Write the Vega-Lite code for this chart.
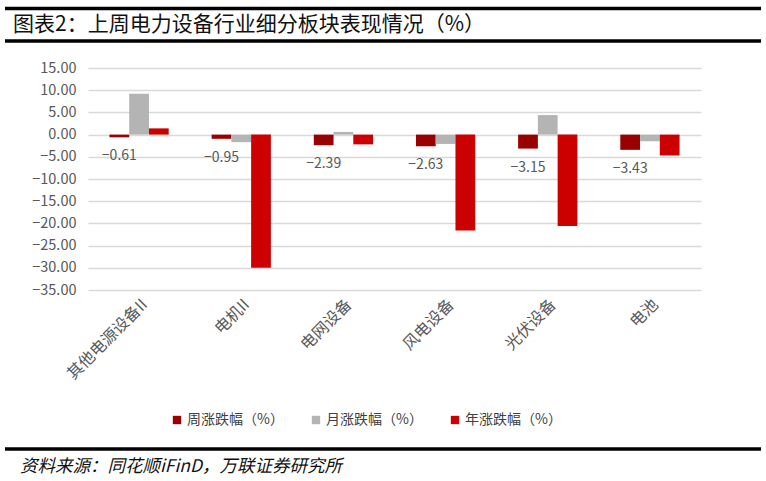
{
  "$schema": "https://vega.github.io/schema/vega-lite/v6.json",
  "padding": {"left": 3, "top": 0, "right": 5, "bottom": 0},
  "spacing": 0,
  "resolve": {"legend": {"color": "independent"}},
  "config": {
    "view": {"stroke": null},
    "font": "Noto Sans CJK SC",
    "axis": {"grid": false},
    "axisY": {"labelOverlap": false, "labelSeparation": 0}
  },
  "vconcat": [
    {
      "width": 613,
      "height": 60,
      "data": {"values": [{"title": "图表2：上周电力设备行业细分板块表现情况（%）"}]},
      "layer": [
        {
          "mark": {"type": "rule", "color": "#000000", "strokeWidth": 3.5},
          "encoding": {
            "x": {"datum": -83, "type": "quantitative", "scale": {"domain": [0, 613], "range": [0, 613], "nice": false, "zero": false}, "axis": null},
            "x2": {"datum": 673},
            "y": {"datum": 8.5, "type": "quantitative", "scale": {"domain": [0, 60], "range": [0, 60], "nice": false}, "axis": null}
          }
        },
        {
          "mark": {"type": "rule", "color": "#000000", "strokeWidth": 3.5},
          "encoding": {
            "x": {"datum": -83, "type": "quantitative"},
            "x2": {"datum": 673},
            "y": {"datum": 41, "type": "quantitative"}
          }
        },
        {
          "mark": {"type": "text", "align": "left", "baseline": "middle", "fontSize": 21, "color": "#111111"},
          "encoding": {
            "x": {"datum": -75, "type": "quantitative"},
            "y": {"datum": 25, "type": "quantitative"},
            "text": {"field": "title"}
          }
        }
      ]
    },
    {
      "width": 613,
      "height": 222,
      "data": {
        "values": [
          {"cat": "其他电源设备II", "series": "周涨跌幅（%）", "value": -0.61},
          {"cat": "其他电源设备II", "series": "月涨跌幅（%）", "value": 9.2},
          {"cat": "其他电源设备II", "series": "年涨跌幅（%）", "value": 1.4},
          {"cat": "电机II", "series": "周涨跌幅（%）", "value": -0.95},
          {"cat": "电机II", "series": "月涨跌幅（%）", "value": -1.7},
          {"cat": "电机II", "series": "年涨跌幅（%）", "value": -30.0},
          {"cat": "电网设备", "series": "周涨跌幅（%）", "value": -2.39},
          {"cat": "电网设备", "series": "月涨跌幅（%）", "value": 0.6},
          {"cat": "电网设备", "series": "年涨跌幅（%）", "value": -2.2},
          {"cat": "风电设备", "series": "周涨跌幅（%）", "value": -2.63},
          {"cat": "风电设备", "series": "月涨跌幅（%）", "value": -2.1},
          {"cat": "风电设备", "series": "年涨跌幅（%）", "value": -21.6},
          {"cat": "光伏设备", "series": "周涨跌幅（%）", "value": -3.15},
          {"cat": "光伏设备", "series": "月涨跌幅（%）", "value": 4.4},
          {"cat": "光伏设备", "series": "年涨跌幅（%）", "value": -20.6},
          {"cat": "电池", "series": "周涨跌幅（%）", "value": -3.43},
          {"cat": "电池", "series": "月涨跌幅（%）", "value": -1.5},
          {"cat": "电池", "series": "年涨跌幅（%）", "value": -4.7}
        ]
      },
      "encoding": {
        "x": {
          "field": "cat",
          "type": "nominal",
          "sort": ["其他电源设备II", "电机II", "电网设备", "风电设备", "光伏设备", "电池"],
          "scale": {"paddingInner": 0.42, "paddingOuter": 0.21},
          "axis": {
            "title": null,
            "labelAngle": -45,
            "domain": false,
            "ticks": false,
            "labelPadding": 6,
            "labelFontSize": 16,
            "labelColor": "#595959"
          }
        },
        "xOffset": {
          "field": "series",
          "sort": ["周涨跌幅（%）", "月涨跌幅（%）", "年涨跌幅（%）"],
          "scale": {"paddingInner": 0, "paddingOuter": 0}
        },
        "y": {
          "field": "value",
          "type": "quantitative",
          "scale": {"domain": [-35, 15], "nice": false},
          "axis": {
            "title": null,
            "values": [15, 10, 5, 0, -5, -10, -15, -20, -25, -30, -35],
            "format": ".2f",
            "labelOverlap": false,
            "grid": true,
            "gridColor": "#D9D9D9",
            "gridWidth": 1.5,
            "domain": false,
            "ticks": false,
            "labelPadding": 12,
            "labelFontSize": 14.5,
            "labelColor": "#595959",
            "minExtent": 83
          }
        }
      },
      "layer": [
        {
          "mark": {"type": "bar"},
          "encoding": {
            "color": {
              "field": "series",
              "type": "nominal",
              "scale": {
                "domain": ["周涨跌幅（%）", "月涨跌幅（%）", "年涨跌幅（%）"],
                "range": ["#9B0000", "#B4B4B4", "#CC0000"]
              },
              "legend": {
                "title": null,
                "orient": "none",
                "direction": "horizontal",
                "legendX": 82,
                "legendY": 345,
                "symbolType": "square",
                "symbolSize": 70,
                "symbolStrokeWidth": 0,
                "labelFontSize": 14,
                "labelColor": "#404040",
                "columnPadding": 25,
                "labelOffset": 3
              }
            }
          }
        },
        {
          "transform": [{"filter": "datum.series === '周涨跌幅（%）'"}],
          "mark": {"type": "text", "dy": 19, "fontSize": 14, "color": "#595959", "baseline": "middle"},
          "encoding": {
            "text": {"field": "value", "type": "quantitative", "format": ".2f"}
          }
        }
      ]
    },
    {
      "width": 613,
      "height": 52,
      "data": {"values": [{"source": "资料来源：同花顺iFinD，万联证券研究所"}]},
      "layer": [
        {
          "mark": {"type": "rule", "color": "#000000", "strokeWidth": 3.5},
          "encoding": {
            "x": {"datum": -83, "type": "quantitative", "scale": {"domain": [0, 613], "range": [0, 613], "nice": false, "zero": false}, "axis": null},
            "x2": {"datum": 673},
            "y": {"datum": 22, "type": "quantitative", "scale": {"domain": [0, 52], "range": [0, 52], "nice": false}, "axis": null}
          }
        },
        {
          "mark": {"type": "text", "align": "left", "baseline": "middle", "fontSize": 17.5, "fontStyle": "italic", "color": "#111111"},
          "encoding": {
            "x": {"datum": -68, "type": "quantitative"},
            "y": {"datum": 40, "type": "quantitative"},
            "text": {"field": "source"}
          }
        }
      ]
    }
  ]
}
